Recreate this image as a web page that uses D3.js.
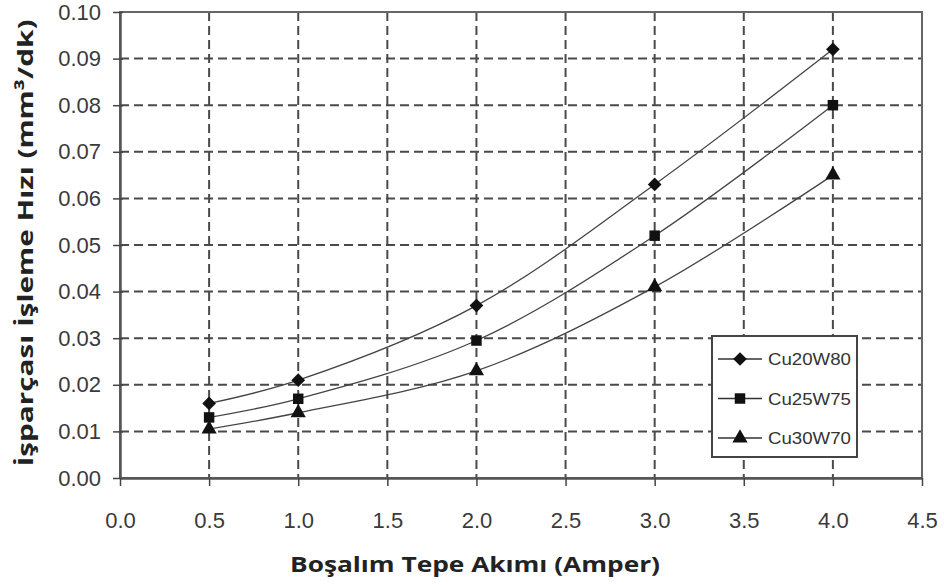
<!DOCTYPE html>
<html><head><meta charset="utf-8">
<script src="https://cdn.jsdelivr.net/npm/d3@7"></script>
<style>body{margin:0;background:#fff}</style>
</head><body>
<svg id="c" width="944" height="585"></svg>
<script>
const xValues = [0.5, 1.0, 2.0, 3.0, 4.0];
const cu20w80 = [0.016, 0.021, 0.037, 0.063, 0.092];
const cu25w75 = [0.013, 0.017, 0.0295, 0.052, 0.080];
const cu30w70 = [0.0105, 0.014, 0.023, 0.041, 0.065];
const seriesNames = ["Cu20W80", "Cu25W75", "Cu30W70"];
const xTicks = [0, 0.5, 1, 1.5, 2, 2.5, 3, 3.5, 4, 4.5];
const yTicks = [0, 0.01, 0.02, 0.03, 0.04, 0.05, 0.06, 0.07, 0.08, 0.09, 0.10];
const xTitle = "Boşalım Tepe Akımı (Amper)";
const yTitle = "İşparçası İşleme Hızı (mm³/dk)";

const svg = d3.select("#c");
const L = 120, R = 922, T = 12, B = 478;
const x = d3.scaleLinear().domain([0, 4.5]).range([L, R]);
const y = d3.scaleLinear().domain([0, 0.10]).range([B, T]);
const gridColor = "#4a4a4a";

// grid
const g = svg.append("g");
g.selectAll(".gy").data(yTicks.filter(d => d > 0 && d < 0.1)).enter().append("line")
  .attr("x1", L).attr("x2", R).attr("y1", d => y(d)).attr("y2", d => y(d))
  .attr("stroke", gridColor).attr("stroke-width", 2).attr("stroke-dasharray", "9,5");
g.selectAll(".gx").data(xTicks.filter(d => d > 0 && d < 4.5)).enter().append("line")
  .attr("y1", T).attr("y2", B).attr("x1", d => x(d)).attr("x2", d => x(d))
  .attr("stroke", gridColor).attr("stroke-width", 2).attr("stroke-dasharray", "9,5");

// frame
svg.append("rect").attr("x", L).attr("y", T).attr("width", R - L).attr("height", B - T)
  .attr("fill", "none").attr("stroke", "#666").attr("stroke-width", 2);

// axes
const yAxis = svg.append("g").attr("transform", `translate(${L},0)`)
  .call(d3.axisLeft(y).tickValues(yTicks).tickFormat(d3.format(".2f")).tickSizeInner(7).tickSizeOuter(0).tickPadding(12));
yAxis.selectAll("line").attr("x2", -7).attr("x1", 3).attr("stroke", "#444").attr("stroke-width", 1.5);
const xAxis = svg.append("g").attr("transform", `translate(0,${B})`)
  .call(d3.axisBottom(x).tickValues(xTicks).tickFormat(d3.format(".1f")).tickSizeInner(8).tickSizeOuter(0).tickPadding(26));
xAxis.selectAll("line").attr("stroke", "#444").attr("stroke-width", 1.5);
[yAxis, xAxis].forEach(a => {
  a.select(".domain").attr("stroke", "#555").attr("stroke-width", 2.5);
  a.selectAll("text").attr("font-family", "Liberation Sans, Arial, sans-serif")
    .attr("font-size", 22).attr("fill", "#3a3a3a");
});

// series
const data = [cu20w80, cu25w75, cu30w70];
const line = d3.line().x((d, i) => x(xValues[i])).y(d => y(d)).curve(d3.curveCatmullRom.alpha(0.5));
const symbols = [d3.symbolDiamond2, d3.symbolSquare, d3.symbolTriangle];
const symSizes = [120, 110, 100];
data.forEach((vals, k) => {
  svg.append("path").attr("d", line(vals)).attr("fill", "none").attr("stroke", "#444").attr("stroke-width", 1.3);
  svg.selectAll(null).data(vals).enter().append("path")
    .attr("transform", (d, i) => `translate(${x(xValues[i])},${y(d)})`)
    .attr("d", d3.symbol().type(symbols[k]).size(symSizes[k])).attr("fill", "#111");
});

// legend
const lg = svg.append("g");
lg.append("rect").attr("x", 712).attr("y", 336).attr("width", 145).attr("height", 121)
  .attr("fill", "#fff").attr("stroke", "#444").attr("stroke-width", 2);
seriesNames.forEach((n, k) => {
  const yy = 359 + k * 39.5;
  lg.append("line").attr("x1", 718).attr("x2", 762).attr("y1", yy).attr("y2", yy).attr("stroke", "#333").attr("stroke-width", 1.5);
  lg.append("path").attr("transform", `translate(740,${yy})`).attr("d", d3.symbol().type(symbols[k]).size(symSizes[k])).attr("fill", "#111");
  lg.append("text").attr("x", 768).attr("y", yy + 6).text(n)
    .attr("font-family", "Liberation Sans, Arial, sans-serif").attr("font-size", 16)
    .attr("fill", "#333").attr("textLength", 83).attr("lengthAdjust", "spacingAndGlyphs");
});

// titles
svg.append("text").attr("x", 475).attr("y", 572).attr("text-anchor", "middle").text(xTitle)
  .attr("font-family", "Open Sans, sans-serif").attr("font-weight", "bold").attr("font-size", 22)
  .attr("fill", "#222").attr("textLength", 370).attr("lengthAdjust", "spacingAndGlyphs");
svg.append("text").attr("transform", "translate(33,243) rotate(-90)").attr("text-anchor", "middle").text(yTitle)
  .attr("font-family", "Open Sans, sans-serif").attr("font-weight", "bold").attr("font-size", 22)
  .attr("fill", "#222").attr("textLength", 447).attr("lengthAdjust", "spacingAndGlyphs");
</script>
</body></html>
